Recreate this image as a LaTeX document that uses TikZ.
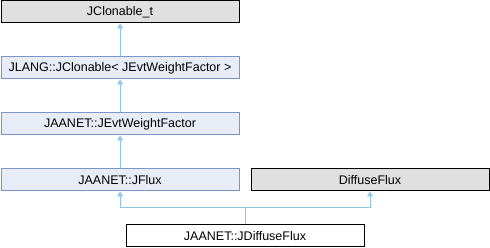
\documentclass[tikz,border=0pt]{standalone}
\usepackage{fontspec}
\setmainfont{Liberation Sans}
\usetikzlibrary{arrows.meta}
\definecolor{bfill}{HTML}{E8ECF6}
\definecolor{bdraw}{HTML}{7C95C9}
\definecolor{gfill}{HTML}{E0E0E0}
\definecolor{edge}{HTML}{8CC8EA}
\tikzset{
  box/.style={line width=1pt, minimum width=238pt, minimum height=22pt, inner sep=0pt, font=\fontsize{12.5}{14}\selectfont},
  cls/.style={box, draw=bdraw, fill=bfill},
  ext/.style={box, draw=black, fill=gfill},
  cur/.style={box, draw=black, fill=white},
  inh/.style={draw=edge, line width=1pt, -{Triangle[length=5pt,width=6pt]}}
}
\begin{document}
\begin{tikzpicture}[x=1pt,y=-1pt]
\useasboundingbox (0,0) rectangle (490,248);
\node[ext] (clt) at (120,12) {JClonable\_t};
\node[cls] (jcl) at (120,68) {JLANG::JClonable< JEvtWeightFactor >};
\node[cls] (ewf) at (120,124) {JAANET::JEvtWeightFactor};
\node[cls] (jfl) at (120,180) {JAANET::JFlux};
\node[ext] (dif) at (370,180) {DiffuseFlux};
\node[cur] (jdf) at (245,236) {JAANET::JDiffuseFlux};
\coordinate (j) at (245,208);
\draw[inh] (jcl) -- (clt);
\draw[inh] (ewf) -- (jcl);
\draw[inh] (jfl) -- (ewf);
\draw[draw=edge, line width=1pt] (jdf.north) -- (j);
\draw[inh] (j) -| (jfl.south);
\draw[inh] (j) -| (dif.south);
\end{tikzpicture}
\end{document}
